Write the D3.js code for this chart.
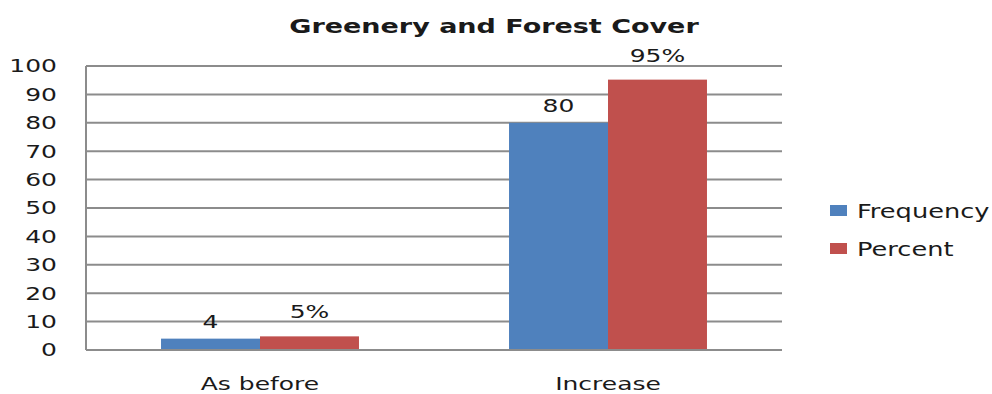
<!DOCTYPE html>
<html>
<head>
<meta charset="utf-8">
<script src="https://cdn.jsdelivr.net/npm/d3@7"></script>
<style>
  body { margin: 0; background: #fff; }
  text { font-family: "DejaVu Sans", sans-serif; fill: #1a1a1a; }
</style>
</head>
<body>
<div id="graphic"></div>
<script>
// data
var categories = ["As before", "Increase"];
var seriesNames = ["Frequency", "Percent"];
var frequency = [4, 80];
var percent = [4.8, 95.2];
var valueLabels = [["4", "80"], ["5%", "95%"]];
var yTicks = [0, 10, 20, 30, 40, 50, 60, 70, 80, 90, 100];
var colors = ["#4f81bd", "#c0504d"];

// the original image is stretched sideways, so draw in narrow units and scale up
var S = 1.35;
var W = 992, H = 394;
var margin = {top: 66, right: 992 - 782, bottom: 394 - 350, left: 86};
var width = (W - margin.left - margin.right) / S,
    height = H - margin.top - margin.bottom;

var svg = d3.select("#graphic").append("svg")
    .attr("width", W)
    .attr("height", H);

var root = svg.append("g").attr("transform", "scale(" + S + ",1)");
var g = root.append("g")
    .attr("transform", "translate(" + (margin.left / S) + "," + margin.top + ")");

var x0 = d3.scaleBand().domain(categories).range([0, width]).padding(0);
var x1 = d3.scaleBand().domain(seriesNames).range([0, x0.bandwidth()])
    .paddingInner(0).paddingOuter(0.758);
var y = d3.scaleLinear().domain([0, 100]).range([height, 0]);

// gridlines
g.selectAll("line.grid")
    .data(yTicks.slice(1))
    .enter().append("line")
    .attr("class", "grid")
    .attr("x1", 0).attr("x2", width)
    .attr("y1", function(d) { return y(d); })
    .attr("y2", function(d) { return y(d); })
    .style("stroke", "#8c8c8c")
    .style("stroke-width", 2);

// y axis labels
var yAxis = g.append("g")
    .call(d3.axisLeft(y).tickValues(yTicks).tickSize(0).tickPadding(29 / S));
yAxis.select(".domain").remove();
yAxis.selectAll("text")
    .style("font-size", "18.5px")
    .style("font-family", "DejaVu Sans, sans-serif")
    .attr("fill", "#1a1a1a");

// bars
var series = [frequency, percent];
var bars = [];
series.forEach(function(vals, si) {
  vals.forEach(function(v, ci) {
    bars.push({cat: categories[ci], name: seriesNames[si], value: v, label: valueLabels[si][ci], si: si});
  });
});

g.selectAll("rect.bar")
    .data(bars)
    .enter().append("rect")
    .attr("class", "bar")
    .attr("x", function(d) { return x0(d.cat) + x1(d.name); })
    .attr("y", function(d) { return y(d.value); })
    .attr("width", x1.bandwidth())
    .attr("height", function(d) { return height - y(d.value); })
    .style("fill", function(d) { return colors[d.si]; });

// value labels
var labelGap = [11, 18];
g.selectAll("text.val")
    .data(bars)
    .enter().append("text")
    .attr("class", "val")
    .attr("x", function(d) { return x0(d.cat) + x1(d.name) + x1.bandwidth() / 2; })
    .attr("y", function(d) { return y(d.value) - labelGap[d.si]; })
    .attr("text-anchor", "middle")
    .style("font-size", "18.5px")
    .text(function(d) { return d.label; });

// axis frame: left and bottom
g.append("line")
    .attr("x1", 0).attr("x2", 0).attr("y1", 0).attr("y2", height)
    .style("stroke", "#8c8c8c").style("stroke-width", 2 / S);
g.append("line")
    .attr("x1", 0).attr("x2", width).attr("y1", height).attr("y2", height)
    .style("stroke", "#8c8c8c").style("stroke-width", 2);

// category labels
g.selectAll("text.cat")
    .data(categories)
    .enter().append("text")
    .attr("class", "cat")
    .attr("x", function(d) { return x0(d) + x0.bandwidth() / 2; })
    .attr("y", height + 40)
    .attr("text-anchor", "middle")
    .style("font-size", "18.5px")
    .text(function(d) { return d; });

// title
root.append("text")
    .attr("x", 494 / S)
    .attr("y", 33)
    .attr("text-anchor", "middle")
    .style("font-size", "20px")
    .style("font-weight", "bold")
    .text("Greenery and Forest Cover");

// legend
var legend = root.append("g")
    .attr("transform", "translate(" + (830 / S) + ",205)");
var item = legend.selectAll("g.item")
    .data(seriesNames)
    .enter().append("g")
    .attr("class", "item")
    .attr("transform", function(d, i) { return "translate(0," + (i * 38) + ")"; });
item.append("rect")
    .attr("width", 17 / S).attr("height", 11)
    .style("fill", function(d, i) { return colors[i]; });
item.append("text")
    .attr("x", 27 / S)
    .attr("y", 13)
    .style("font-size", "19px")
    .text(function(d) { return d; });
</script>
</body>
</html>
